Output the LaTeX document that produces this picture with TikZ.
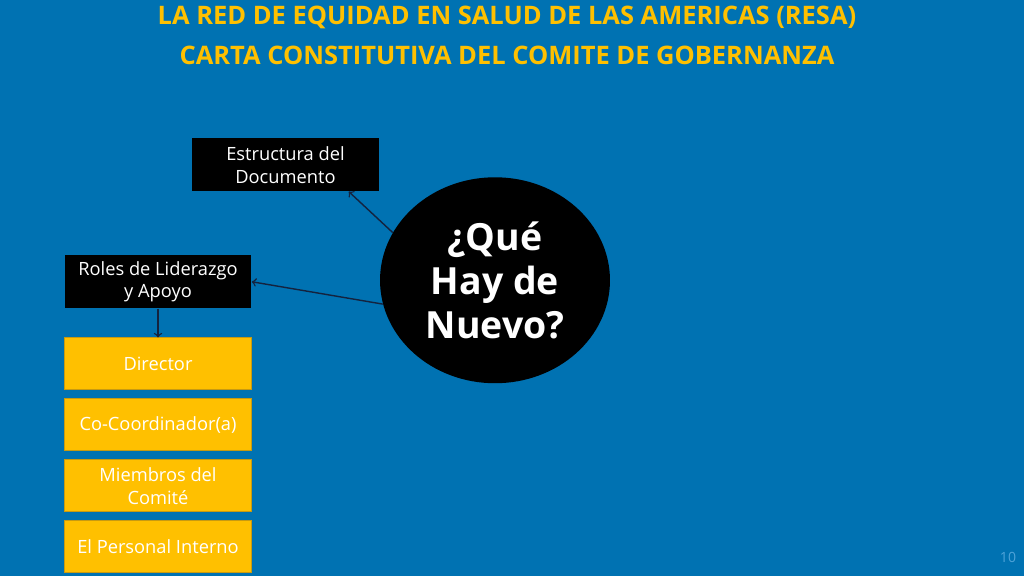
\documentclass[tikz,border=0pt]{standalone}
\usepackage{fontspec}
\setmainfont{Open Sans}
\usetikzlibrary{shapes.geometric}

\definecolor{fondo}{HTML}{0072B2}
\definecolor{oro}{HTML}{FFC000}
\definecolor{borde}{HTML}{C89A10}
\definecolor{flecha}{HTML}{14233F}
\definecolor{pagina}{HTML}{4FA3D8}

\begin{document}
\begin{tikzpicture}[x=0.02cm,y=-0.02cm,
		negro/.style={fill=black, text=white, minimum width=3.74cm, minimum height=1.06cm,
			inner sep=0pt, align=center, font=\fontsize{10.4}{13}\selectfont},
		rol/.style={fill=oro, draw=borde, thin, text=white, minimum width=3.74cm, minimum height=1.04cm,
			inner sep=0pt, align=center, font=\fontsize{10.4}{13}\selectfont},
		titulo/.style={text=oro, font=\fontsize{14.5}{16}\selectfont\bfseries},
		enlace/.style={flecha, thick, ->}]
				\fill[fondo] (0,0) rectangle (1024,576);
				
				\node[titulo] (tit1) at (507,17) {LA RED DE EQUIDAD EN SALUD DE LAS AMERICAS (RESA)};
				\node[titulo] (tit2) at (507,55) {CARTA CONSTITUTIVA DEL COMITE DE GOBERNANZA};
				
				\node[ellipse, fill=black, text=white, minimum width=4.6cm, minimum height=4.12cm, inner sep=0pt,
					align=center, font=\fontsize{21.3}{25}\selectfont\bfseries] (nuevo) at (495,280) {¿Qué\\Hay de\\Nuevo?};
				
				\node[negro] (estructura) at (285.5,164.5) {Estructura del\\Documento};
				\node[negro] (roles) at (158,281.5) {Roles de Liderazgo\\y Apoyo};
				
				\node[rol] (director) at (158,363.5) {Director};
				\node[rol] (coord) at (158,424.5) {Co-Coordinador(a)};
				\node[rol] (miembros) at (158,485.5) {Miembros del\\Comité};
				\node[rol] (personal) at (158,546.5) {El Personal Interno};
				
				\draw[enlace] (nuevo.155) -- (estructura.-23);
				\draw[enlace] (nuevo.192) -- (roles.east);
				\draw[enlace] (roles.south) -- (director.north);
				
				\node[text=pagina, font=\fontsize{8}{9}\selectfont] (num) at (1008,557) {10};
			\end{tikzpicture}
\end{document}
